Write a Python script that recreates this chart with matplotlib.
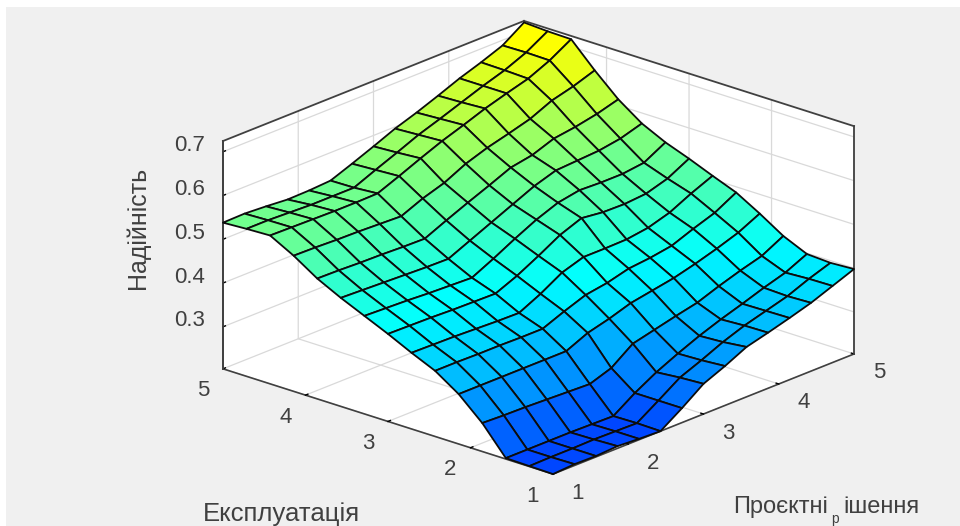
import matplotlib
matplotlib.use("Agg")
import matplotlib.pyplot as plt
import numpy as np
from matplotlib.colors import LinearSegmentedColormap
from matplotlib.patches import Rectangle
from mpl_toolkits.mplot3d import proj3d

plt.rcParams["font.family"] = ["Liberation Sans", "DejaVu Sans"]

# x = project decisions, y = operation, one row of z per operation step
x_vals = np.linspace(1, 5, 15)
y_vals = np.linspace(1, 5, 15)
z_rows = [
    [.204, .207, .206, .209, .206, .204, .237, .273, .294, .318, .331, .345, .360, .379, .398],
    [.205, .206, .206, .207, .206, .205, .237, .270, .290, .312, .330, .344, .358, .378, .395],
    [.206, .206, .206, .206, .205, .204, .237, .265, .288, .309, .327, .343, .360, .375, .398],
    [.269, .267, .266, .264, .262, .260, .277, .313, .325, .337, .348, .366, .382, .396, .422],
    [.318, .318, .318, .318, .318, .318, .340, .353, .369, .378, .387, .400, .415, .432, .456],
    [.354, .354, .353, .353, .352, .352, .372, .390, .398, .411, .416, .424, .443, .460, .487],
    [.378, .377, .376, .374, .372, .371, .395, .424, .440, .440, .441, .448, .463, .487, .508],
    [.404, .403, .402, .400, .399, .398, .419, .445, .473, .492, .486, .485, .489, .504, .530],
    [.428, .426, .424, .421, .419, .417, .441, .467, .491, .510, .519, .517, .517, .523, .550],
    [.452, .450, .448, .446, .444, .443, .465, .487, .509, .531, .547, .550, .553, .561, .576],
    [.479, .478, .476, .475, .473, .472, .494, .515, .535, .556, .565, .583, .590, .600, .614],
    [.514, .513, .511, .510, .508, .506, .527, .543, .567, .584, .597, .611, .633, .646, .663],
    [.543, .542, .541, .540, .540, .541, .561, .582, .602, .619, .637, .652, .666, .688, .717],
    [.541, .541, .539, .537, .537, .537, .558, .578, .599, .616, .634, .652, .668, .689, .718],
    [.538, .539, .536, .532, .533, .536, .555, .575, .596, .613, .632, .652, .669, .688, .721],
]
x_ticks = [1, 2, 3, 4, 5]
y_ticks = [1, 2, 3, 4, 5]
z_ticks = [0.3, 0.4, 0.5, 0.6, 0.7]
x_label = "Проєктні"
x_label_sub = "р"
x_label_end = "ішення"
y_label = "Експлуатація"
z_label = "Надійність"

X, Y = np.meshgrid(x_vals, y_vals)
Z = np.array(z_rows)

W, H = 960, 526
fig = plt.figure(figsize=(W / 100, H / 100), dpi=100, facecolor="white")
fig.add_artist(Rectangle((6 / W, 0), 1 - 6 / W, 1 - 7 / H, transform=fig.transFigure,
                         facecolor="#f0f0f0", edgecolor="none", zorder=-1))

side = 658
ax = fig.add_axes([(538.5 - 0.5135 * side) / W, (526 - 247.5 - 0.5135 * side) / H, side / W, side / H],
                  projection="3d", proj_type="ortho", facecolor="none")
ax.view_init(elev=20.9, azim=-138.2)
ax.set_box_aspect((452, 443, 244))
ax.set_xlim(1, 5)
ax.set_ylim(1, 5)
ax.set_zlim(0.204, 0.7245)

cmap = LinearSegmentedColormap.from_list(
    "blue_yellow",
    [(0.0, (0, 70 / 255, 1)), (0.41, (0, 1, 1)), (1.0, (1, 1, 0))],
)
ax.plot_surface(X, Y, Z, rcount=15, ccount=15, cmap=cmap, vmin=0.204, vmax=0.705,
                edgecolor="#0c0c0c", linewidth=1.3, shade=False, antialiased=True)

ink = "#404040"
for axis in (ax.xaxis, ax.yaxis, ax.zaxis):
    axis.set_pane_color((1, 1, 1, 1))
    axis.pane.set_edgecolor("white")
    axis.line.set_color(ink)
    axis.line.set_linewidth(1.2)
    axis._axinfo["grid"].update(color="#d9d9d9", linewidth=0.9)
    axis._axinfo["tick"].update(inward_factor=0.0, outward_factor=0.1, linewidth={True: 1.0, False: 0.5})
    axis._axinfo["tick"]["color"] = ink

ax.set_xticks(x_ticks)
ax.set_yticks(y_ticks)
ax.set_zticks(z_ticks)
ax.set_xticklabels([])
ax.set_yticklabels([])
ax.set_zticklabels([])
ax.zaxis.set_ticks_position("upper")

# top and side edges of the box
edge = dict(color=ink, linewidth=1.3, zorder=0)
x0, x1 = ax.get_xlim()
y0, y1 = ax.get_ylim()
z0, z1 = ax.get_zlim()
ax.plot([x0, x0], [y1, y1], [z0, z1], **edge)
ax.plot([x1, x1], [y0, y0], [z0, z1], **edge)
ax.plot([x0, x1], [y1, y1], [z1, z1], **edge)
ax.plot([x1, x1], [y0, y1], [z1, z1], **edge)
ax.set_xlim(x0, x1)
ax.set_ylim(y0, y1)
ax.set_zlim(z0, z1)

# tick labels sit at a fixed pixel offset from their tick
M = ax.get_proj()
def tick_text(x, y, z, label, dx, dy):
    px, py, _ = proj3d.proj_transform(x, y, z, M)
    ax.annotate(label, xy=(px, py), xycoords="data", xytext=(dx, dy), textcoords="offset pixels",
                ha="center", va="center", fontsize=16, color=ink, annotation_clip=False)

for t in x_ticks:
    tick_text(t, y0, z0, str(t), 25, -19)
for t in y_ticks:
    tick_text(x0, t, z0, str(t), -20, -22)
for t in z_ticks:
    tick_text(x0, y1, t, f"{t:.1f}", -33, 6)

fig.text(138 / W, 1 - 228 / H, z_label, rotation=90, ha="center", va="center", fontsize=18, color=ink)
fig.text(203 / W, 1 - 521 / H, y_label, ha="left", va="baseline", fontsize=18.5, color=ink)
fig.text(733 / W, 1 - 513 / H, x_label, ha="left", va="baseline", fontsize=17, color=ink)
fig.text(835 / W, 1 - 523 / H, x_label_sub, ha="center", va="baseline", fontsize=10, color=ink)
fig.text(843 / W, 1 - 513 / H, x_label_end, ha="left", va="baseline", fontsize=17, color=ink)

fig.savefig("out.png", dpi=100, facecolor=fig.get_facecolor())
